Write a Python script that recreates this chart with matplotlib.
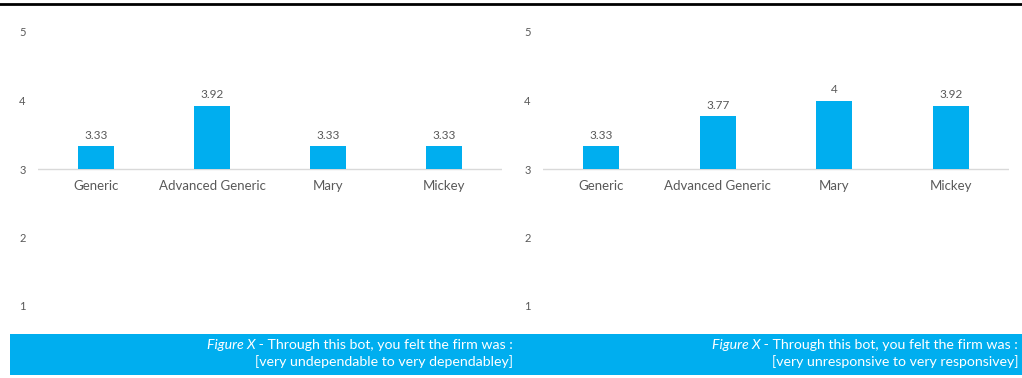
import matplotlib.pyplot as plt
import numpy as np
from matplotlib.patches import Rectangle
from matplotlib.lines import Line2D

categories = ["Generic", "Advanced Generic", "Mary", "Mickey"]
dependable = [3.33, 3.92, 3.33, 3.33]
responsive = [3.33, 3.77, 4, 3.92]
value_labels_left = ["3.33", "3.92", "3.33", "3.33"]
value_labels_right = ["3.33", "3.77", "4", "3.92"]
yticks = [1, 2, 3, 4, 5]
captions = ["[very undependable to very dependabley]",
            "[very unresponsive to very responsivey]"]

blue = '#00AEEF'
grey = '#595959'
plt.rcParams['font.family'] = ['Lato', 'DejaVu Sans']

W, H = 1022, 378
fig = plt.figure(figsize=(W/100, H/100), dpi=100)

def panel(x0, x1, values, labels):
    ax = fig.add_axes([x0/W, 1-306/H, (x1-x0)/W, (306-32)/H])
    x = np.arange(len(categories))
    base = 3
    ax.bar(x, np.array(values)-base, bottom=base, width=0.31, color=blue, zorder=3)
    ax.axhline(base, color='#d9d9d9', lw=1, zorder=2)
    ax.set_xlim(-0.5, len(categories)-0.5)
    ax.set_ylim(1, 5)
    ax.set_yticks(yticks)
    ax.set_xticks([])
    ax.tick_params(axis='y', length=0, pad=9, labelsize=8, labelcolor=grey)
    for s in ax.spines.values():
        s.set_visible(False)
    for i, (v, lab) in enumerate(zip(values, labels)):
        ax.annotate(lab, (i, v), xytext=(0, 4), textcoords='offset points',
                    ha='center', va='bottom', fontsize=8.5, color=grey)
        ax.annotate(categories[i], (i, base), xytext=(0, -8), textcoords='offset points',
                    ha='center', va='top', fontsize=9.5, color=grey)
    return ax

panel(38, 502, dependable, value_labels_left)
panel(543, 1009, responsive, value_labels_right)

# top rule
fig.add_artist(Line2D([0, 1], [1-4/H, 1-4/H], color='black', lw=2, transform=fig.transFigure))

# caption band
fig.add_artist(Rectangle((10/W, 1-375/H), (W-10)/W, 41/H, color=blue, transform=fig.transFigure, lw=0))
for xr, cap in zip([513, 1018], captions):
    t1 = fig.text(xr/W, 1-345/H, " - Through this bot, you felt the firm was :",
                  color='white', fontsize=10.2, ha='right', va='center')
    fig.canvas.draw()
    bb = t1.get_window_extent()
    fig.text(bb.x0/W, 1-345/H, "Figure X", style='italic', color='white', fontsize=10.2,
             ha='right', va='center')
    fig.text(xr/W, 1-362/H, cap, color='white', fontsize=10.2, ha='right', va='center')

fig.savefig('out.png', dpi=100)
